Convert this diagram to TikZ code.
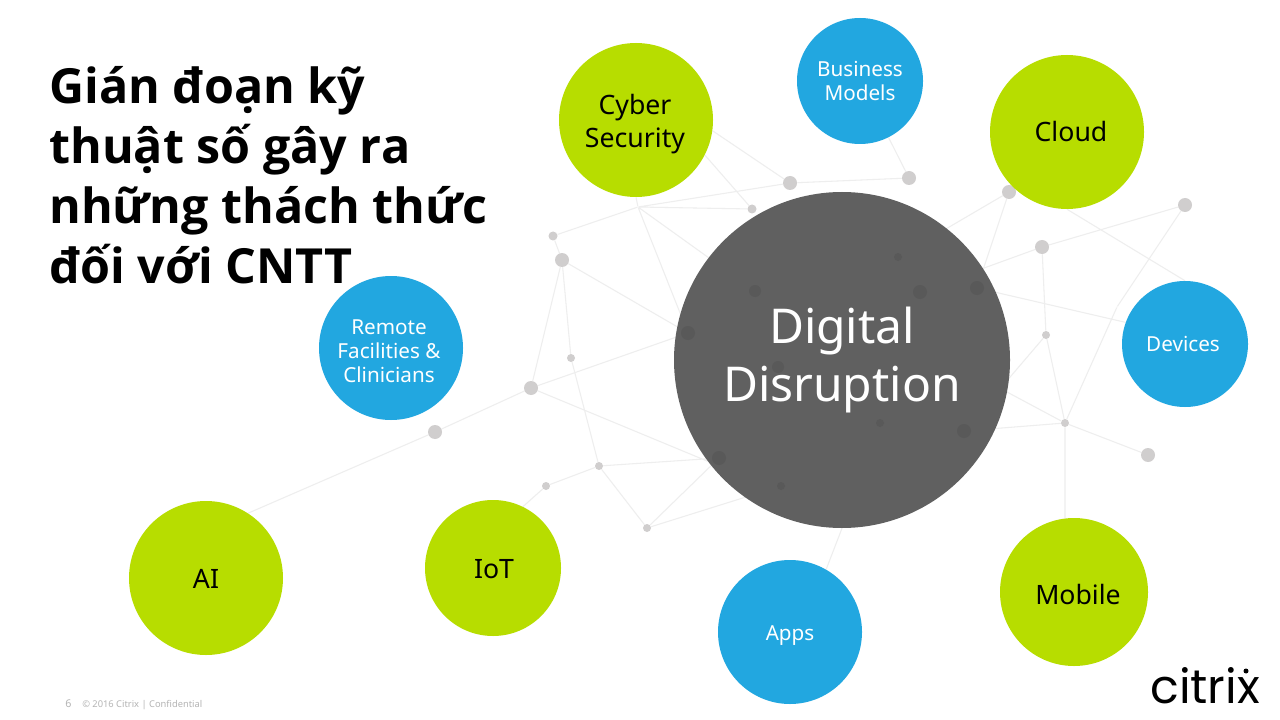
\documentclass[tikz,border=0pt]{standalone}
\usepackage{fontspec}
\setmainfont{Noto Sans}
\newfontfamily\titlefont{Open Sans}[BoldFont=* Bold]
\newfontfamily\logofont{Poppins}
\usetikzlibrary{backgrounds}
\definecolor{lime}{HTML}{B7DD00}
\definecolor{sky}{HTML}{22A7E0}
\definecolor{slate}{HTML}{606060}
\definecolor{dotgray}{HTML}{D0CECE}
\definecolor{linkgray}{HTML}{EEEEEE}
\definecolor{spot}{HTML}{595959}
\definecolor{footgray}{HTML}{B4B4B4}
\tikzset{
  x=0.75pt,y=-0.75pt,
  disc/.style={circle,inner sep=0pt,minimum size=#1*1.5pt},
  limedisc/.style={disc=#1,fill=lime},
  skydisc/.style={disc=#1,fill=sky},
  limetext/.style={align=center,inner sep=0pt,text=black,font=\fontsize{20}{25}\selectfont},
  skytext/.style={align=center,inner sep=0pt,text=white,font=\fontsize{15.5}{18}\selectfont},
  netdot/.style={disc=#1,fill=dotgray},
  hiddendot/.style={disc=#1,fill=spot},
  hub/.style={disc=0.5,fill=linkgray},
  link/.style={draw=linkgray,line width=0.8pt},
}
\begin{document}
\begin{tikzpicture}
\useasboundingbox (0,0) rectangle (1280,720);
% title
\node[anchor=north west,align=left,inner sep=0pt,font=\titlefont\fontsize{36.3}{45}\selectfont\bfseries,text=black] (title) at (49,66)
  {Gián đoạn kỹ\\thuật số gây ra\\những thách thức\\đối với CNTT};
% network dots
\node[netdot=4.5] (a) at (553,236) {};
\node[netdot=7] (b) at (562,260) {};
\node[netdot=4] (c) at (571,358) {};
\node[netdot=7] (d) at (531,388) {};
\node[netdot=4] (e) at (599,466) {};
\node[netdot=4] (f) at (546,486) {};
\node[netdot=4] (g) at (647,528) {};
\node[netdot=4.5] (h) at (752,209) {};
\node[netdot=7] (i) at (790,183) {};
\node[hub] (j) at (638,207) {};
\node[netdot=7] (k) at (909,178) {};
\node[netdot=7] (l) at (1009,192) {};
\node[netdot=7] (m) at (1185,205) {};
\node[netdot=7] (n) at (1042,247) {};
\node[netdot=4] (o) at (1046,335) {};
\node[netdot=4] (p) at (1065,423) {};
\node[netdot=7] (q) at (1148,455) {};
\node[netdot=7] (r) at (435,432) {};
\node[hub] (bend) at (1117,307) {};
% circles
\node[disc=168,fill=slate] (digital) at (842,360) {};
\node[hiddendot=7] (s1) at (688,333) {};
\node[hiddendot=6] (s2) at (755,291) {};
\node[hiddendot=7] (s3) at (719,458) {};
\node[hiddendot=4] (s4) at (781,486) {};
\node[hiddendot=6] (s5) at (778,367) {};
\node[hiddendot=7] (s6) at (977,288) {};
\node[hiddendot=7] (s7) at (920,292) {};
\node[hiddendot=4] (s8) at (898,257) {};
\node[hiddendot=7] (s9) at (964,431) {};
\node[hiddendot=4] (s10) at (880,423) {};
\node[text=white,align=center,inner sep=0pt,font=\fontsize{36}{43.5}\selectfont] (dlabel) at (842,360) {Digital\\Disruption};
\node[limedisc=77] (cyber) at (636,120) {};
\node[skydisc=63] (business) at (860,81) {};
\node[limedisc=77] (cloud) at (1067,132) {};
\node[skydisc=63] (devices) at (1185,344) {};
\node[limedisc=74] (mobile) at (1074,592) {};
\node[skydisc=72] (apps) at (790,632) {};
\node[limedisc=68] (iot) at (493,568) {};
\node[limedisc=77] (ai) at (206,578) {};
\node[skydisc=72] (remote) at (391,348) {};
% circle labels
\node[limetext] (cybertext) at (635,124) {Cyber\\Security};
\node[skytext] (businesstext) at (860,81) {Business\\Models};
\node[limetext] (cloudtext) at (1071,132) {Cloud};
\node[skytext] (devicestext) at (1183,344) {Devices};
\node[limetext] (mobiletext) at (1078,594) {Mobile};
\node[skytext] (appstext) at (790,636) {Apps};
\node[limetext] (iottext) at (494,569) {IoT};
\node[limetext] (aitext) at (206,579) {AI};
\node[skytext] (remotetext) at (389,351) {Remote\\Facilities \&\\Clinicians};
% connectors
\begin{scope}[on background layer]
\fill[white] (0,0) rectangle (1280,720);
\path[link] (a)--(j) (a)--(b) (b)--(d) (b)--(c) (b)--(s1) (c)--(e) (d)--(s1) (d)--(digital.217)
  (e)--(s3) (e)--(f) (e)--(g) (f)--(iot.64) (g)--(s3) (g)--(s4) (j)--(h) (j)--(i) (j)--(s2) (j)--(s1)
  (j)--(cyber.south) (cyber.-8)--(i) (cyber.333)--(h) (i)--(k) (business)--(k) (l)--(s8) (l)--(s6)
  (n)--(digital.33) (n)--(m)
  (n)--(o) (o)--(p) (o)--(s9) (p)--(digital.-11) (p)--(s9) (p)--(q) (p)--(mobile.97) (p)--(bend) (bend)--(m)
  (cloud.south)--(devices.north) (s6)--(devices.160) (r)--(d) (r)--(ai.57) (apps.60)--(digital.south);
\end{scope}
% footer
\node[anchor=base west,inner sep=0pt,text=footgray,font=\fontsize{8}{10}\selectfont] (pageno) at (65,707) {6};
\node[anchor=base west,inner sep=0pt,text=footgray,font=\fontsize{7}{8}\selectfont] (foot) at (82,707) {© 2016 Citrix | Confidential};
% logo
\node[anchor=base west,inner sep=0pt,text=black,font=\logofont\fontsize{35.5}{40}\selectfont] (logo) at (1150,703) {citrix};
\node[disc=2.5,fill=black] (logodot) at (1246,671) {};
\end{tikzpicture}
\end{document}
